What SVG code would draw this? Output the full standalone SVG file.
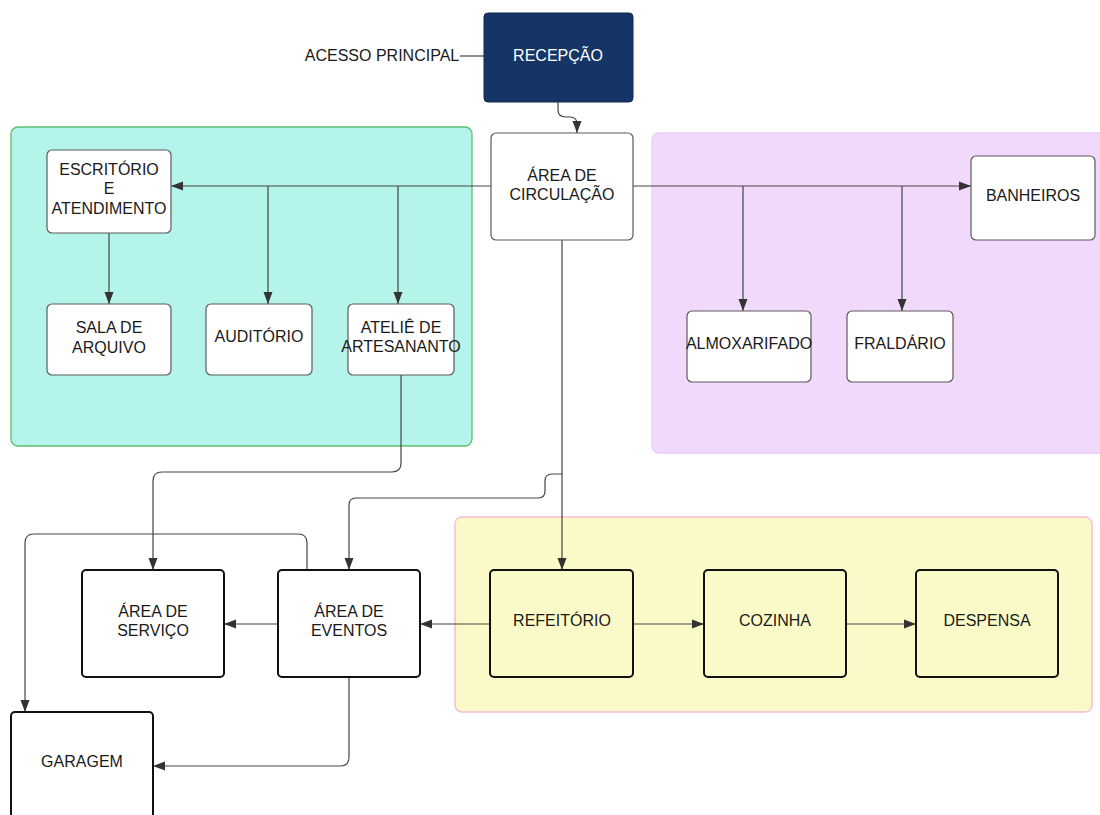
<svg xmlns="http://www.w3.org/2000/svg" width="1100" height="815" viewBox="0 0 1100 815">
<style>
text{font-family:"Liberation Sans",Arial,sans-serif;font-size:16px;fill:#1a1a1a;text-anchor:middle}
.n{fill:#fff;stroke:#5a5a5a;stroke-width:1.2}
.b{fill:#fff;stroke:#111;stroke-width:2}
.y{fill:#fafac8;stroke:#111;stroke-width:2}
.c{fill:none;stroke:#444;stroke-width:1.2}
</style>
<defs>
<marker id="a" viewBox="0 0 12 10" refX="12" refY="5" markerWidth="12" markerHeight="10" markerUnits="userSpaceOnUse" orient="auto">
<path d="M0,0.5 L12,5 L0,9.5 Z" fill="#333"/>
</marker>
</defs>
<rect width="1100" height="815" fill="#fff"/>
<g id="grupo-verde"><rect x="11" y="127" width="461" height="319" rx="7" fill="#b5f4ea" stroke="#5cbf6d" stroke-width="1.3"/></g>
<g id="grupo-roxo"><rect x="652" y="133" width="460" height="320" rx="7" fill="#f1d9fc" stroke="#ecc8fa" stroke-width="1.3"/></g>
<g id="grupo-amarelo"><rect x="455" y="517" width="637" height="195" rx="7" fill="#fafac8" stroke="#f9bcd9" stroke-width="1.5"/></g>

<g id="connectors">
<line class="c" x1="460" y1="56" x2="484" y2="56"/>
<path class="c" d="M558,102 V110 Q558,117 566,117 H570 Q577,117 577,124 V133" marker-end="url(#a)"/>
<path class="c" d="M491,186 H171" marker-end="url(#a)"/>
<path class="c" d="M268,186 V304" marker-end="url(#a)"/>
<path class="c" d="M398,186 V304" marker-end="url(#a)"/>
<path class="c" d="M109,233 V304" marker-end="url(#a)"/>
<path class="c" d="M633,186 H971" marker-end="url(#a)"/>
<path class="c" d="M743,186 V311" marker-end="url(#a)"/>
<path class="c" d="M902,186 V311" marker-end="url(#a)"/>
<path class="c" d="M562,240 V570" marker-end="url(#a)"/>
<path class="c" d="M562,474 H552 Q545,474 545,481 V491 Q545,498 538,498 H356 Q349,498 349,505 V570" marker-end="url(#a)"/>
<path class="c" d="M401,375 V463 Q401,472 392,472 H162 Q153,472 153,481 V570" marker-end="url(#a)"/>
<path class="c" d="M490,624 H420" marker-end="url(#a)"/>
<path class="c" d="M278,624 H224" marker-end="url(#a)"/>
<path class="c" d="M633,624 H704" marker-end="url(#a)"/>
<path class="c" d="M846,624 H916" marker-end="url(#a)"/>
<path class="c" d="M307,570 V543 Q307,534 298,534 H34 Q25,534 25,543 V712" marker-end="url(#a)"/>
<path class="c" d="M349,677 V757 Q349,766 340,766 H153" marker-end="url(#a)"/>
</g>

<g id="acesso"><text x="382" y="61">ACESSO PRINCIPAL</text></g>
<g id="recepcao"><rect x="484" y="13" width="149" height="89" rx="4" fill="#143566" stroke="#0f2a52"/><text x="558" y="61" style="fill:#fff">RECEPÇÃO</text></g>
<g id="circulacao"><rect class="n" x="491" y="133" width="142" height="107" rx="5"/><text x="562" y="181">ÁREA DE</text><text x="562" y="200">CIRCULAÇÃO</text></g>
<g id="escritorio"><rect class="n" x="47" y="150" width="124" height="83" rx="5"/><text x="109" y="175">ESCRITÓRIO</text><text x="109" y="194">E</text><text x="109" y="214">ATENDIMENTO</text></g>
<g id="arquivo"><rect class="n" x="47" y="304" width="124" height="71" rx="5"/><text x="109" y="333">SALA DE</text><text x="109" y="353">ARQUIVO</text></g>
<g id="auditorio"><rect class="n" x="206" y="304" width="106" height="71" rx="5"/><text x="259" y="342">AUDITÓRIO</text></g>
<g id="atelie"><rect class="n" x="348" y="304" width="106" height="71" rx="5"/><text x="401" y="333">ATELIÊ DE</text><text x="401" y="352">ARTESANANTO</text></g>
<g id="banheiros"><rect class="n" x="971" y="156" width="124" height="84" rx="5"/><text x="1033" y="201">BANHEIROS</text></g>
<g id="almoxarifado"><rect class="n" x="687" y="311" width="124" height="71" rx="5"/><text x="749" y="349">ALMOXARIFADO</text></g>
<g id="fraldario"><rect class="n" x="847" y="311" width="106" height="71" rx="5"/><text x="900" y="349">FRALDÁRIO</text></g>
<g id="refeitorio"><rect class="y" x="490" y="570" width="143" height="107" rx="4"/><text x="562" y="626">REFEITÓRIO</text></g>
<g id="cozinha"><rect class="y" x="704" y="570" width="142" height="107" rx="4"/><text x="775" y="626">COZINHA</text></g>
<g id="despensa"><rect class="y" x="916" y="570" width="142" height="107" rx="4"/><text x="987" y="626">DESPENSA</text></g>
<g id="servico"><rect class="b" x="82" y="570" width="142" height="107" rx="4"/><text x="153" y="617">ÁREA DE</text><text x="153" y="636">SERVIÇO</text></g>
<g id="eventos"><rect class="b" x="278" y="570" width="142" height="107" rx="4"/><text x="349" y="617">ÁREA DE</text><text x="349" y="636">EVENTOS</text></g>
<g id="garagem"><rect class="b" x="11" y="712" width="142" height="120" rx="4"/><text x="82" y="767">GARAGEM</text></g>
</svg>
